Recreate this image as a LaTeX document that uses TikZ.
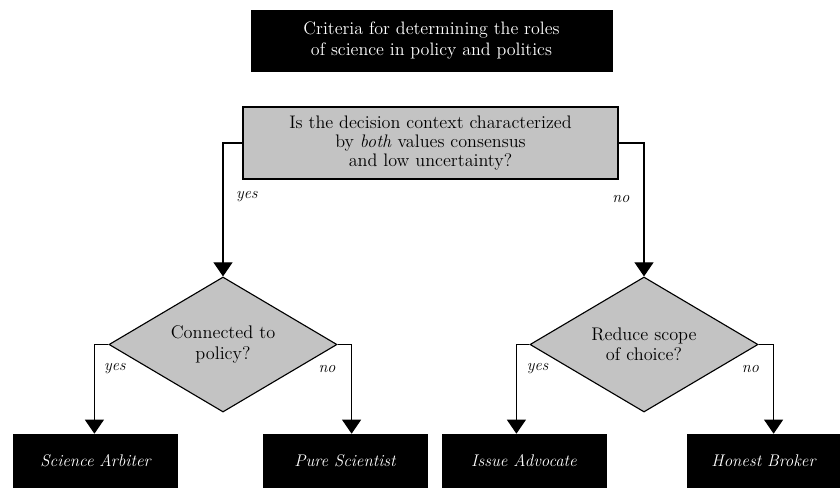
\documentclass[tikz,border=0pt]{standalone}
\usepackage{tikz}
\usetikzlibrary{arrows.meta,positioning,shapes.geometric}

\definecolor{qgray}{RGB}{195,195,195}

\begin{document}
\begin{tikzpicture}[
  x=0.025cm, y=-0.025cm,
  title/.style={draw, fill=black, text=white, minimum width=9.025cm, minimum height=1.525cm, align=center, font={\fontsize{12.8}{15}\selectfont}},
  qbox/.style={draw, line width=0.8pt, fill=qgray, minimum width=9.375cm, minimum height=1.8cm, align=center, font={\fontsize{12.9}{13.5}\selectfont}},
  dec/.style={diamond, aspect=1.7, draw, line width=0.8pt, fill=qgray, inner sep=0pt, minimum width=5.7cm, minimum height=3.375cm, align=center, font={\fontsize{13}{14.5}\selectfont}},
  role/.style={draw, fill=black, text=white, minimum width=4.1cm, minimum height=1.325cm, font={\fontsize{12}{14}\selectfont\itshape}},
  lbl/.style={inner sep=0pt, font={\fontsize{11.5}{13}\selectfont\itshape}},
  arr/.style={line width=0.8pt, -{Triangle[width=13.5pt, length=10pt]}}
]
\useasboundingbox (0,0) rectangle (840,487);

% header
\node[title] (crit) at (431.5,40.5) {Criteria for determining the roles\\of science in policy and politics};

% first question
\node[qbox] (q) at (430.5,143) {Is the decision context characterized\\by \emph{both} values consensus\\and low uncertainty?};

% second questions
\node[dec] (conn) at (223,344.5) {Connected to\\policy?};
\node[dec] (scope) at (644,344.5) {Reduce scope\\of choice?};

% roles
\node[role] (arb) at (95.5,460.5) {Science Arbiter};
\node[role] (pure) at (345,460.5) {Pure Scientist};
\node[role] (adv) at (524,460.5) {Issue Advocate};
\node[role, minimum width=3.825cm] (hb) at (763.5,460.5) {Honest Broker};

% arrows from first question
\draw[arr] (q.west) -| node[lbl, pos=0.7, anchor=west, xshift=9pt] {yes} (conn.north);
\draw[arr] (q.east) -| node[lbl, pos=0.71, anchor=east, xshift=-10pt] {no} (scope.north);

% arrows to roles
\draw[arr] (conn.west) -- ++(-14,0) coordinate (c1) -- node[lbl, pos=0.27, anchor=west, xshift=6.5pt] {yes} (c1 |- arb.north);
\draw[arr] (conn.east) -- ++(14,0) coordinate (c2) -- node[lbl, pos=0.27, anchor=east, xshift=-11pt] {no} (c2 |- pure.north);
\draw[arr] (scope.west) -- ++(-13,0) coordinate (c3) -- node[lbl, pos=0.27, anchor=west, xshift=7pt] {yes} (c3 |- adv.north);
\draw[arr] (scope.east) -- ++(15,0) coordinate (c4) -- node[lbl, pos=0.27, anchor=east, xshift=-10pt] {no} (c4 |- hb.north);
\end{tikzpicture}
\end{document}
